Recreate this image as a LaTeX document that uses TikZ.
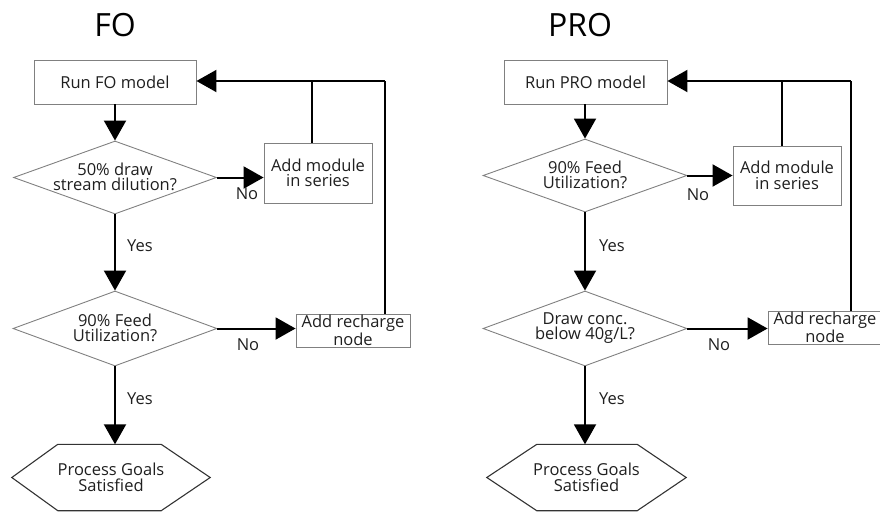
\documentclass[tikz,border=0pt]{standalone}
\usepackage{fontspec}
\setmainfont{Open Sans}
\usetikzlibrary{arrows.meta,shapes.geometric,calc}
\begin{document}
\begin{tikzpicture}[x=1pt,y=-1pt,
  txt/.style={font=\fontsize{16.5}{15.5}\selectfont, text=black!88, align=center, inner sep=0pt},
  procbox/.style={txt, draw=black!50, line width=0.9pt, rectangle},
  decision/.style={draw=black!50, line width=0.9pt, diamond, aspect=2.78, inner sep=0pt},
  goalbox/.style={txt, rectangle},
  hexline/.style={draw=black!80, line width=1.1pt, line join=miter},
  flow/.style={line width=2pt, -{Triangle[length=20pt,width=22pt]}},
  link/.style={line width=2pt},
  lbl/.style={txt},
  ttl/.style={font=\fontsize{32}{36}\selectfont, text=black, inner sep=0pt}
]
\useasboundingbox (0,0) rectangle (880,512);

% ---------------- FO ----------------
\node[ttl] (t1) at (115,25) {FO};
\node[procbox, minimum width=162pt, minimum height=44pt] (run1) at (115,82) {Run FO model};
\node[decision, minimum width=203pt, minimum height=73pt] (d1) at (115,177.5) {};
\node[txt] (d1t) at (115,177) {50\% draw\\stream dilution?};
\node[procbox, minimum width=108pt, minimum height=60pt] (mod1) at (318,173) {Add module\\in series};
\node[decision, minimum width=204pt, minimum height=75pt] (d2) at (115,328.5) {};
\node[txt] (d2t) at (115,328) {90\% Feed\\Utilization?};
\node[procbox, minimum width=114pt, minimum height=33pt] (rec1) at (353,330.5) {Add recharge\\node};
\node[goalbox, minimum width=198pt, minimum height=66pt] (g1) at (111,477.5) {Process Goals\\Satisfied};
\draw[hexline] (g1.west) -- ($(g1.north west)+(46,0)$) -- ($(g1.north east)+(-49,0)$) -- (g1.east)
  -- ($(g1.south east)+(-49,0)$) -- ($(g1.south west)+(46,0)$) -- cycle;

\coordinate (j1) at (312,81);
\coordinate (c1) at (385,81);

\draw[flow] (run1.south) -- (d1.north);
\draw[flow] (d1.east) -- (d1.east -| mod1.west);
\draw[link] (j1 |- mod1.north) -- (j1);
\draw[link] (c1 |- rec1.north) -- (c1);
\draw[flow] (c1) -- (c1 -| run1.east);
\draw[flow] (d1.south) -- (d2.north);
\draw[flow] (d2.east) -- (d2.east -| rec1.west);
\draw[flow] (d2.south) -- (d2.south |- g1.north);

\node[lbl] (n1) at (247,194) {No};
\node[lbl] (y1) at (140,246) {Yes};
\node[lbl] (n2) at (248,345) {No};
\node[lbl] (y2) at (140,399) {Yes};

% ---------------- PRO ----------------
\node[ttl] (t2) at (580,25) {PRO};
\node[procbox, minimum width=163pt, minimum height=44pt] (run2) at (585.5,82) {Run PRO model};
\node[decision, minimum width=204pt, minimum height=73pt] (e1) at (585,175.5) {};
\node[txt] (e1t) at (585,175) {90\% Feed\\Utilization?};
\node[procbox, minimum width=108pt, minimum height=59pt] (mod2) at (787,175.5) {Add module\\in series};
\node[decision, minimum width=204pt, minimum height=75pt] (e2) at (585,328.5) {};
\node[txt] (e2t) at (585,328) {Draw conc.\\below 40g/L?};
\node[procbox, minimum width=114pt, minimum height=33pt] (rec2) at (825,327.5) {Add recharge\\node};
\node[goalbox, minimum width=199pt, minimum height=66pt] (g2) at (586.5,477.5) {Process Goals\\Satisfied};
\draw[hexline] (g2.west) -- ($(g2.north west)+(50,0)$) -- ($(g2.north east)+(-49,0)$) -- (g2.east)
  -- ($(g2.south east)+(-49,0)$) -- ($(g2.south west)+(50,0)$) -- cycle;

\coordinate (j2) at (782,81);
\coordinate (c2) at (851,81);

\draw[flow] (run2.south -| e1.north) -- (e1.north);
\draw[flow] (e1.east) -- (e1.east -| mod2.west);
\draw[link] (j2 |- mod2.north) -- (j2);
\draw[link] (c2 |- rec2.north) -- (c2);
\draw[flow] (c2) -- (c2 -| run2.east);
\draw[flow] (e1.south) -- (e2.north);
\draw[flow] (e2.east) -- (e2.east -| rec2.west);
\draw[flow] (e2.south) -- (e2.south |- g2.north);

\node[lbl] (n3) at (698,195) {No};
\node[lbl] (y3) at (612,246) {Yes};
\node[lbl] (n4) at (719,345) {No};
\node[lbl] (y4) at (612,399) {Yes};
\end{tikzpicture}
\end{document}
